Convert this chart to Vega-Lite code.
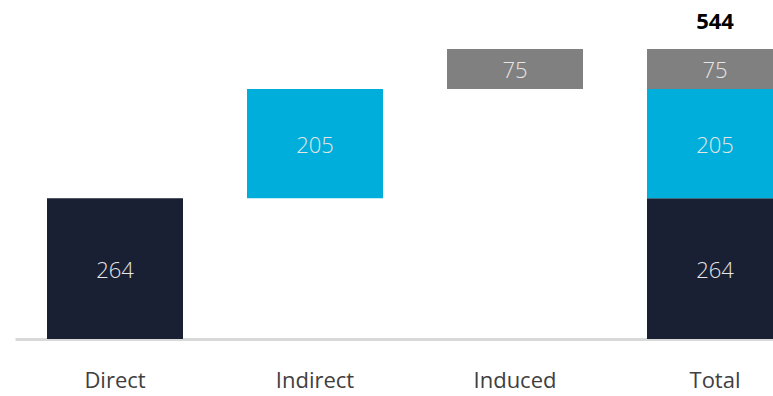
{
  "$schema": "https://vega.github.io/schema/vega-lite/v6.json",
  "width": 773,
  "height": 339,
  "padding": {"left": 0, "top": 0, "right": 0, "bottom": 57},
  "autosize": {"type": "none"},
  "background": "white",
  "config": {"view": {"stroke": null}, "font": "Open Sans"},
  "data": {
    "values": [
      {"category": "Direct", "part": "Direct", "start": 0, "end": 264, "value": 264},
      {"category": "Indirect", "part": "Indirect", "start": 264, "end": 469, "value": 205},
      {"category": "Induced", "part": "Induced", "start": 469, "end": 544, "value": 75},
      {"category": "Total", "part": "Direct", "start": 0, "end": 264, "value": 264},
      {"category": "Total", "part": "Indirect", "start": 264, "end": 469, "value": 205},
      {"category": "Total", "part": "Induced", "start": 469, "end": 544, "value": 75}
    ]
  },
  "encoding": {
    "x": {
      "field": "category",
      "type": "nominal",
      "sort": ["Direct", "Indirect", "Induced", "Total"],
      "scale": {"range": [15, 815], "paddingInner": 0.32, "paddingOuter": 0.16},
      "axis": {
        "title": null,
        "labelAngle": 0,
        "ticks": false,
        "domainColor": "#d9d9d9",
        "domainWidth": 3,
        "labelFontSize": 22,
        "labelFont": "Open Sans",
        "labelColor": "#404040",
        "labelBaseline": "middle",
        "labelPadding": 41
      }
    }
  },
  "layer": [
    {
      "mark": {"type": "bar"},
      "encoding": {
        "y": {"field": "start", "type": "quantitative", "scale": {"domain": [0, 636], "nice": false}, "axis": null},
        "y2": {"field": "end"},
        "color": {
          "field": "part",
          "type": "nominal",
          "scale": {"domain": ["Direct", "Indirect", "Induced"], "range": ["#1a2033", "#00aedb", "#808080"]},
          "legend": null
        }
      }
    },
    {
      "transform": [{"calculate": "(datum.start + datum.end) / 2", "as": "mid"}],
      "mark": {"type": "text", "fontSize": 22, "fontWeight": 300, "color": "#e6e6e6", "baseline": "middle", "dy": 2},
      "encoding": {
        "y": {"field": "mid", "type": "quantitative"},
        "text": {"field": "value", "type": "quantitative"}
      }
    },
    {
      "transform": [{"filter": "datum.category === 'Total' && datum.part === 'Induced'"}],
      "mark": {"type": "text", "fontSize": 22, "fontWeight": "bold", "color": "#000000", "baseline": "middle", "dy": -27},
      "encoding": {
        "y": {"field": "end", "type": "quantitative"},
        "text": {"field": "end", "type": "quantitative"}
      }
    }
  ]
}
